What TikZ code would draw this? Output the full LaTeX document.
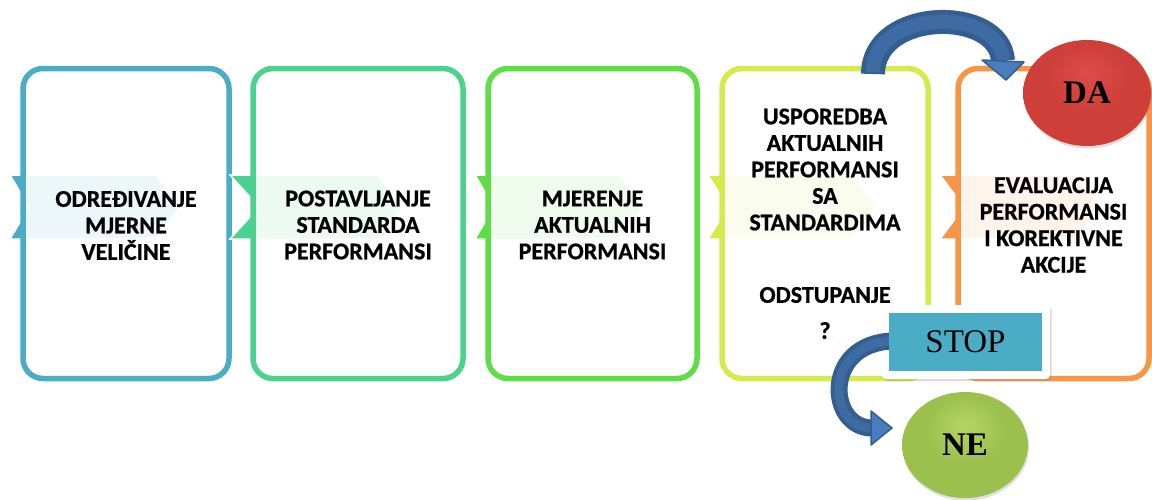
\documentclass[tikz,border=0pt]{standalone}
\usepackage{fontspec}
\setmainfont{Liberation Serif}
\newfontfamily\boxfont{Carlito}[BoldFeatures={FakeBold=0.8}]
\usetikzlibrary{shadows,shapes.geometric}
\definecolor{cA}{HTML}{4BACC6}
\definecolor{cB}{HTML}{4BD28E}
\definecolor{cC}{HTML}{5FDD47}
\definecolor{cD}{HTML}{D4EB4B}
\definecolor{cE}{HTML}{F79646}
\definecolor{arrDark}{HTML}{335E8F}
\definecolor{arrMid}{HTML}{3E6CA2}
\definecolor{arrLight}{HTML}{4A7DBB}
\definecolor{daLight}{HTML}{DD4C46}
\definecolor{daMid}{HTML}{CF3F39}
\definecolor{daDark}{HTML}{962A25}
\definecolor{neLight}{HTML}{B4D566}
\definecolor{neMid}{HTML}{9CC04E}
\definecolor{neDark}{HTML}{6E8C30}
\definecolor{stopFill}{HTML}{4BACC6}
\pgfdeclareradialshading{dashade}{\pgfpoint{0bp}{10bp}}{color(0bp)=(daLight); color(16bp)=(daMid); color(42bp)=(daMid); color(50bp)=(daDark)}
\pgfdeclareradialshading{neshade}{\pgfpoint{0bp}{10bp}}{color(0bp)=(neLight); color(16bp)=(neMid); color(42bp)=(neMid); color(50bp)=(neDark)}
\newcommand\mychev[4]{\fill[#4, draw=white, line width=1.5pt] (#1,175) -- (#3-24,175) -- (#3,207) -- (#3-24,239) -- (#1,239) -- (#2+6,207) -- cycle;}
\begin{document}
\begin{tikzpicture}[x=1pt,y=-1pt]
\useasboundingbox (0,0) rectangle (1152,499);
\tikzset{
  boxframe/.style={line width=5.5pt, rounded corners=20pt, fill=white, fill opacity=0.9, text opacity=1, minimum height=310pt, inner sep=0pt},
  btext/.style={font=\boxfont\bfseries\fontsize{24}{26.5}\selectfont, align=center, text=black},
  ovalnode/.style={ellipse, font=\bfseries\fontsize{33}{33}\selectfont, text=black, drop shadow={shadow xshift=1pt, shadow yshift=-2.5pt, opacity=0.25}},
}
% boxes with chevrons
\mychev{10}{23}{180}{cA}
\node[boxframe, draw=cA, minimum width=206pt] (b1) at (126,223.5) {};
\node[btext] (t1) at (126,225.5) {ODREĐIVANJE\\MJERNE\\VELIČINE};
\mychev{230}{253}{402}{cB}
\node[boxframe, draw=cB, minimum width=210pt] (b2) at (358,223.5) {};
\node[btext] (t2) at (358,225) {POSTAVLJANJE\\STANDARDA\\PERFORMANSI};
\mychev{475}{488}{643}{cC}
\node[boxframe, draw=cC, minimum width=209pt] (b3) at (592.5,223.5) {};
\node[btext] (t3) at (592.5,225) {MJERENJE\\AKTUALNIH\\PERFORMANSI};
\mychev{708}{722}{877}{cD}
\node[boxframe, draw=cD, minimum width=206pt] (b4) at (825,223.5) {};
\node[btext] (t4) at (825,169.5) {USPOREDBA\\AKTUALNIH\\PERFORMANSI\\SA\\STANDARDIMA};
\node[btext] (t4b) at (825,295) {ODSTUPANJE};
\node[btext] (t4c) at (825,330.5) {?};
\mychev{940}{958}{1100}{cE}
\node[boxframe, draw=cE, minimum width=191pt] (b5) at (1053.5,223.5) {};
\node[btext] (t5) at (1053.5,225) {EVALUACIJA\\PERFORMANSI\\I KOREKTIVNE\\AKCIJE};
% top curved arrow
\coordinate (upS) at (873,74);
\coordinate (upE) at (1003,61);
\draw[line width=24pt, arrDark] (upS) .. controls (873,8) and (1000,6) .. (upE);
\draw[line width=14pt, arrMid, shorten <=2pt, shorten >=1pt] (upS) .. controls (873,8) and (1000,6) .. (upE);
\filldraw[fill=arrLight, draw=arrDark, line width=1.5pt, line join=round] (982,60) -- (1024,62) -- (1006,80) -- cycle;
% DA
\node[ovalnode, shading=dashade, minimum width=128pt, minimum height=106pt] (da) at (1087,93) {DA};
% STOP
\node[fill=white, rounded corners=4pt, minimum width=168pt, minimum height=74pt, drop shadow={shadow xshift=1.5pt, shadow yshift=-2pt, opacity=0.3}] (stopF) at (966,342) {};
\coordinate (dnS) at (892,341);
\coordinate (dnE) at (872,428);
\draw[line width=17pt, arrDark] (dnS) .. controls (822,344) and (828,428) .. (dnE);
\draw[line width=9pt, arrMid, shorten >=1pt] (dnS) .. controls (822,344) and (828,428) .. (dnE);
\filldraw[fill=arrLight, draw=arrDark, line width=1.5pt, line join=round] (871,411) -- (892,428) -- (871,445) -- cycle;
\node[fill=stopFill, minimum width=153pt, minimum height=58pt, font=\fontsize{33}{33}\selectfont, text=black] (stop) at (965.5,342) {STOP};
% NE
\node[ovalnode, shading=neshade, minimum width=126pt, minimum height=106pt] (ne) at (965,445) {NE};
\end{tikzpicture}
\end{document}
